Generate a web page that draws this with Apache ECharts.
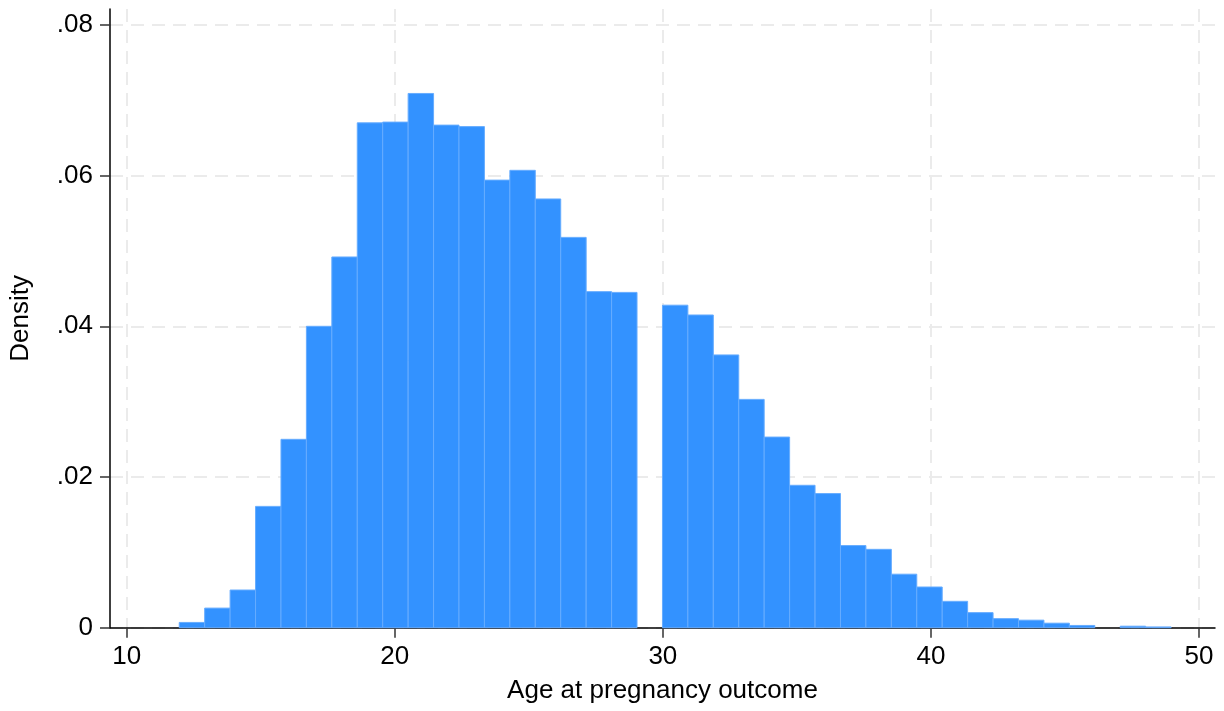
<!DOCTYPE html>
<html>
<head>
<meta charset="utf-8">
<script src="https://cdn.jsdelivr.net/npm/echarts@6/dist/echarts.min.js"></script>
<style>
html,body{margin:0;padding:0;background:#fff;}
#chart{width:1224px;height:711px;}
</style>
</head>
<body>
<div id="chart"></div>
<script>
// Histogram: 39 bins of equal width
const binStart = 11.96;
const binWidth = 0.9487;
const density = [
  0.0007, 0.0026, 0.0050, 0.0161, 0.0250, 0.0400, 0.0492, 0.0670, 0.0671, 0.0709,
  0.0667, 0.0665, 0.0594, 0.0607, 0.0569, 0.0518, 0.0446, 0.0445, 0.0000, 0.0428,
  0.0415, 0.0362, 0.0303, 0.0253, 0.0189, 0.0178, 0.0109, 0.0104, 0.0071, 0.0054,
  0.0035, 0.0020, 0.0012, 0.0010, 0.0006, 0.0003, 0.0000, 0.0002, 0.0001
];
const xTickValues = [10, 20, 30, 40, 50];
const xTickLabels = ['10', '20', '30', '40', '50'];
const yTickValues = [0, 0.02, 0.04, 0.06, 0.08];
const yTickLabels = ['0', '.02', '.04', '.06', '.08'];
const xTitle = 'Age at pregnancy outcome';
const yTitle = 'Density';

const histData = density.map((d, i) => [binStart + i * binWidth, binStart + (i + 1) * binWidth, d]);

const FONT = '"Liberation Sans", Arial, Helvetica, sans-serif';
const chart = echarts.init(document.getElementById('chart'), null, {renderer: 'canvas'});
const gridLine = {show: true, lineStyle: {color: '#ebebeb', width: 2, type: [13, 8]}};

chart.setOption({
  backgroundColor: '#ffffff',
  animation: false,
  grid: {left: 110, right: 9, top: 9, bottom: 83.3, containLabel: false},
  xAxis: {
    type: 'value',
    min: 9.377,
    max: 50.597,
    name: xTitle,
    nameLocation: 'middle',
    nameGap: 50,
    nameTextStyle: {fontFamily: FONT, fontSize: 26, color: '#000'},
    axisLine: {show: true, onZero: false, lineStyle: {color: '#000', width: 1.5}},
    axisTick: {show: true, length: 10, customValues: xTickValues, lineStyle: {color: '#333', width: 1.5}},
    axisLabel: {
      show: true, customValues: xTickValues, margin: 16,
      fontFamily: FONT, fontSize: 26, color: '#000',
      formatter: v => xTickLabels[xTickValues.indexOf(v)]
    },
    splitLine: gridLine
  },
  yAxis: {
    type: 'value',
    min: 0,
    max: 0.08211,
    name: yTitle,
    nameLocation: 'middle',
    nameGap: 76,
    nameRotate: 90,
    nameTextStyle: {fontFamily: FONT, fontSize: 26, color: '#000'},
    axisLine: {show: true, lineStyle: {color: '#000', width: 1.5}},
    axisTick: {show: true, length: 10, customValues: yTickValues, lineStyle: {color: '#333', width: 1.5}},
    axisLabel: {
      show: true, customValues: yTickValues, margin: 17,
      fontFamily: FONT, fontSize: 26, color: '#000',
      formatter: v => yTickLabels[yTickValues.indexOf(v)]
    },
    splitLine: gridLine
  },
  series: [{
    type: 'custom',
    data: histData,
    encode: {x: [0, 1], y: 2},
    renderItem: function (params, api) {
      const h = api.value(2);
      if (!h) return null;
      const p0 = api.coord([api.value(0), h]);
      const p1 = api.coord([api.value(1), 0]);
      return {
        type: 'rect',
        shape: {x: p0[0], y: p0[1], width: p1[0] - p0[0], height: p1[1] - p0[1]},
        style: {fill: '#3392ff', stroke: '#66acff', lineWidth: 1}
      };
    }
  }]
});
</script>
</body>
</html>
